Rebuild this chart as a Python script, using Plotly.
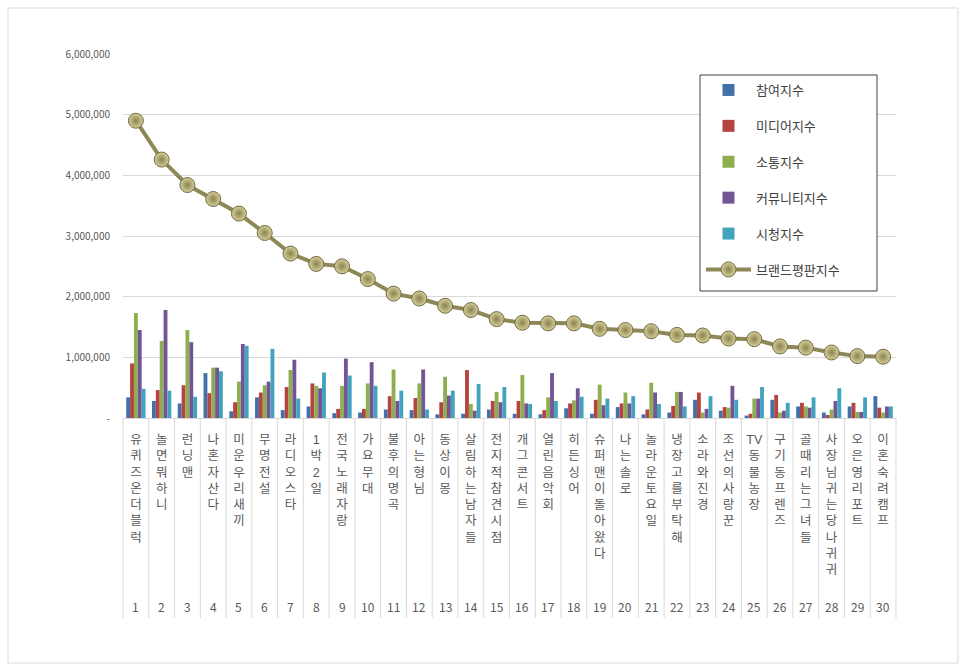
import plotly.graph_objects as go

# ---------------- data ----------------
ranks = list(range(1, 31))
programs = [
    "유퀴즈온더블럭", "놀면 뭐하니", "런닝맨", "나혼자산다", "미운우리새끼",
    "무명전설", "라디오스타", "1박2일", "전국노래자랑", "가요무대",
    "불후의 명곡", "아는 형님", "동상이몽", "살림하는 남자들", "전지적 참견 시점",
    "개그콘서트", "열린음악회", "히든싱어", "슈퍼맨이 돌아왔다", "나는 솔로",
    "놀라운토요일", "냉장고를부탁해", "소라와진경", "조선의 사랑꾼", "TV동물농장",
    "구기동프렌즈", "골때리는 그녀들", "사장님 귀는 당나귀 귀", "오은영리포트", "이혼숙려캠프",
]
series_names = ["참여지수", "미디어지수", "소통지수", "커뮤니티지수", "시청지수"]
participation = [340000, 280000, 240000, 740000, 110000, 340000, 130000, 190000, 80000, 90000,
                 140000, 130000, 60000, 70000, 140000, 70000, 60000, 160000, 70000, 180000,
                 60000, 90000, 300000, 120000, 40000, 300000, 190000, 90000, 190000, 360000]
media = [900000, 460000, 540000, 410000, 260000, 420000, 510000, 570000, 150000, 150000,
         360000, 330000, 260000, 790000, 280000, 280000, 130000, 240000, 300000, 240000,
         140000, 200000, 420000, 180000, 70000, 380000, 250000, 50000, 250000, 170000]
communication = [1730000, 1270000, 1450000, 830000, 600000, 540000, 790000, 530000, 530000, 570000,
                 800000, 570000, 680000, 230000, 430000, 710000, 340000, 290000, 550000, 420000,
                 580000, 430000, 90000, 170000, 320000, 90000, 190000, 140000, 100000, 90000]
community = [1450000, 1780000, 1250000, 830000, 1220000, 600000, 960000, 490000, 980000, 920000,
             280000, 800000, 370000, 120000, 260000, 240000, 740000, 490000, 210000, 240000,
             420000, 430000, 150000, 530000, 320000, 120000, 170000, 280000, 100000, 190000]
viewing = [480000, 450000, 350000, 770000, 1190000, 1140000, 320000, 750000, 700000, 530000,
           450000, 140000, 450000, 560000, 510000, 230000, 280000, 350000, 320000, 360000,
           230000, 190000, 360000, 300000, 510000, 250000, 340000, 490000, 340000, 190000]
brand = [4900000, 4260000, 3840000, 3610000, 3370000, 3050000, 2710000, 2540000, 2500000, 2290000,
         2050000, 1970000, 1850000, 1780000, 1630000, 1570000, 1560000, 1560000, 1470000, 1450000,
         1430000, 1370000, 1360000, 1310000, 1300000, 1180000, 1160000, 1080000, 1020000, 1010000]
brand_name = "브랜드평판지수"
y_ticks = [0, 1000000, 2000000, 3000000, 4000000, 5000000, 6000000]
y_ticktext = ["-", "1,000,000", "2,000,000", "3,000,000", "4,000,000", "5,000,000", "6,000,000"]

# ---------------- style ----------------
W, H = 966, 672
ML, MR, MT, MB = 123, 70, 54, 254
PW, PH = W - ML - MR, H - MT - MB
bar_colors = ["#4270A8", "#B5433F", "#8FAE50", "#735596", "#42A3BD"]
FONT = "Noto Sans CJK KR"
STACK_FONT = "Liberation Sans, Noto Sans CJK KR"
GRAY = "#595959"


def stack(name):
    parts = []
    buf = ""
    for ch in name.replace(" ", ""):
        if buf and ch.isascii() and ch.isalpha() and buf[-1].isascii() and buf[-1].isalpha():
            buf += ch
            continue
        if buf:
            parts.append(buf)
        buf = ch
    if buf:
        parts.append(buf)
    return "<br>".join(parts)


def px_x(px):
    return (px - ML) / PW


def px_y(py):
    return (H - MB - py) / PH


fig = go.Figure()
for i, (nm, vals) in enumerate(zip(series_names,
                                   [participation, media, communication, community, viewing])):
    fig.add_trace(go.Bar(
        x=ranks, y=vals, name=nm, marker=dict(color=bar_colors[i], line=dict(width=0)),
        legendgroup=nm,
    ))

fig.add_trace(go.Scatter(
    x=ranks, y=brand, name=brand_name, mode="lines+markers", legendgroup=brand_name,
    line=dict(color="#8E8856", width=4),
    marker=dict(size=15, color="#D6CF9A",
                gradient=dict(type="radial", color="#8A8350"),
                line=dict(color="#716B42", width=1)),
))

# category separators below the axis
sep_depth = (618 - 418) / PH
for k in range(len(ranks) + 1):
    fig.add_shape(type="line", xref="x domain", yref="paper",
                  x0=k / len(ranks), x1=k / len(ranks), y0=0, y1=-sep_depth,
                  line=dict(color="#D9D9D9", width=1))

# rank numbers
num_y = px_y(606)
for r in ranks:
    fig.add_annotation(x=r, y=num_y, xref="x", yref="paper", text=str(r), showarrow=False,
                       font=dict(size=12, color=GRAY, family=FONT), yanchor="middle")

# outer border
fig.add_shape(type="rect", xref="paper", yref="paper",
              x0=px_x(8), x1=px_x(958), y0=px_y(663), y1=px_y(8),
              line=dict(color="#D9D9D9", width=1), layer="below")

# legend frame
fig.add_shape(type="rect", xref="paper", yref="paper",
              x0=px_x(700), x1=px_x(877), y0=px_y(291), y1=px_y(75),
              line=dict(color="#404040", width=1), fillcolor="white", layer="above")

fig.update_layout(
    width=W, height=H,
    margin=dict(l=ML, r=MR, t=MT, b=MB),
    paper_bgcolor="white", plot_bgcolor="white",
    barmode="group", bargap=0.25, bargroupgap=0,
    font=dict(family=FONT, color=GRAY),
    showlegend=True,
    legend=dict(x=px_x(701), y=px_y(75), xanchor="left", yanchor="top",
                bgcolor="rgba(0,0,0,0)", borderwidth=0,
                font=dict(size=13, color="#404040", family=FONT),
                tracegroupgap=16, itemwidth=45),
    xaxis=dict(range=[0.5, 30.5], tickvals=ranks, ticktext=[stack(p) for p in programs],
               tickangle=0, showgrid=False, zeroline=False, showline=True, linecolor="#D9D9D9",
               ticks="", tickfont=dict(size=12.5, color=GRAY, family=STACK_FONT),
               ticklabelstandoff=10, fixedrange=True),
    yaxis=dict(range=[0, 6000000], tickvals=y_ticks, ticktext=y_ticktext,
               showgrid=True, gridcolor="#D9D9D9", zeroline=False, showline=False,
               ticks="", tickfont=dict(size=10, color=GRAY, family=FONT),
               ticklabelstandoff=12),
)

fig.write_html("out.html")
